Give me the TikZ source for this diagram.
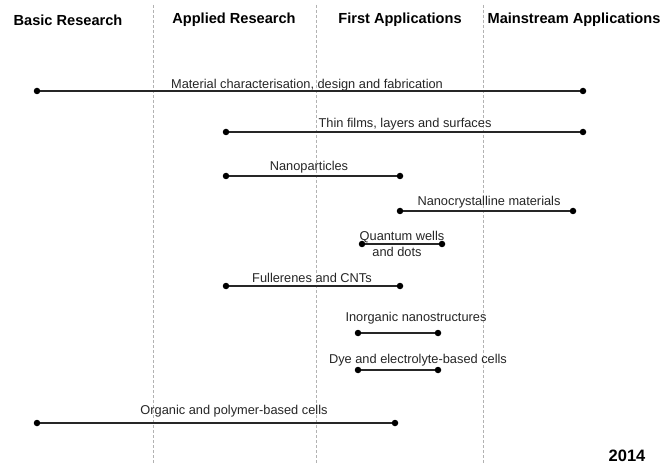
\documentclass[tikz,border=0pt]{standalone}
\usepackage{fontspec}
\setmainfont{Liberation Sans}
\begin{document}
\begin{tikzpicture}[x=1pt,y=-1pt,
  dot/.style={circle,fill=black,inner sep=0pt,minimum size=6.5pt},
  bar/.style={line width=1.2pt,black!85},
  lbl/.style={inner sep=0pt,font=\fontsize{12.8}{14}\selectfont,text=black!85,yshift=-1.5pt},
  hdr/.style={inner sep=0pt,font=\bfseries\fontsize{14.6}{16}\selectfont,yshift=-1pt},
  sep/.style={gray!60,dashed,dash pattern=on 3pt off 2pt,line width=0.8pt}]
\useasboundingbox[fill=white] (0,0) rectangle (664,465);
% separators
\coordinate (s1t) at (153,5); \coordinate (s1b) at (153,465);
\coordinate (s2t) at (316,5); \coordinate (s2b) at (316,465);
\coordinate (s3t) at (483,5); \coordinate (s3b) at (483,465);
\draw[sep] (s1t) -- (s1b);
\draw[sep] (s2t) -- (s2b);
\draw[sep] (s3t) -- (s3b);
% headers
\node[hdr] (h1) at (68,19) {Basic Research};
\node[hdr] (h2) at (234,19) {Applied Research};
\node[hdr] (h3) at (400,19) {First Applications};
\node[hdr] (h4) at (574,19) {Mainstream Applications};
% bars
\node[dot] (a1) at (37,91) {}; \node[dot] (a2) at (583,91) {};
\draw[bar] (a1) -- (a2);
\node[lbl] (la) at (307,84) {Material characterisation, design and fabrication};
\node[dot] (b1) at (226,132) {}; \node[dot] (b2) at (583,132) {};
\draw[bar] (b1) -- (b2);
\node[lbl] (lb) at (405,123) {Thin films, layers and surfaces};
\node[dot] (c1) at (226,176) {}; \node[dot] (c2) at (400,176) {};
\draw[bar] (c1) -- (c2);
\node[lbl] (lc) at (309,166) {Nanoparticles};
\node[dot] (d1) at (400,211) {}; \node[dot] (d2) at (573,211) {};
\draw[bar] (d1) -- (d2);
\node[lbl] (ld) at (489,201) {Nanocrystalline materials};
\node[dot] (e1) at (362,244) {}; \node[dot] (e2) at (442,244) {};
\draw[bar] (e1) -- (e2);
\node[lbl] (le1) at (402,236) {Quantum wells};
\node[lbl] (le2) at (397,250) {and dots};
\node[dot] (f1) at (226,286) {}; \node[dot] (f2) at (400,286) {};
\draw[bar] (f1) -- (f2);
\node[lbl] (lf) at (312,276) {Fullerenes and CNTs};
\node[dot] (g1) at (358,333) {}; \node[dot] (g2) at (438,333) {};
\draw[bar] (g1) -- (g2);
\node[lbl] (lg) at (416,317) {Inorganic nanostructures};
\node[dot] (i1) at (358,370) {}; \node[dot] (i2) at (438,370) {};
\draw[bar] (i1) -- (i2);
\node[lbl] (li) at (418,359) {Dye and electrolyte-based cells};
\node[dot] (j1) at (37,423) {}; \node[dot] (j2) at (395,423) {};
\draw[bar,line width=1.8pt] (j1) -- (j2);
\node[lbl] (lj) at (234,410) {Organic and polymer-based cells};
\node[hdr,font=\bfseries\fontsize{16.5}{18}\selectfont] (yr) at (627,455) {2014};
\end{tikzpicture}
\end{document}
